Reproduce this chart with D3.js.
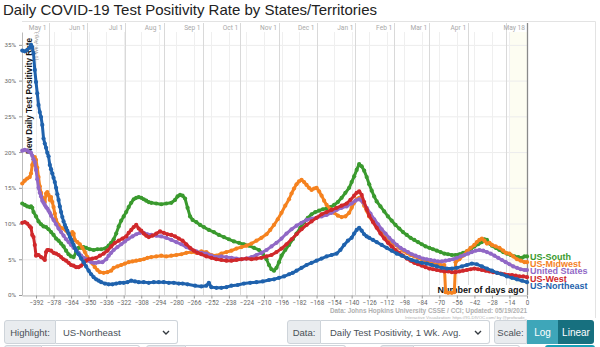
<!DOCTYPE html>
<html>
<head>
<meta charset="utf-8">
<script src="https://cdn.jsdelivr.net/npm/d3@7/dist/d3.min.js"></script>
<style>
  body { margin: 0; background: #fff; font-family: "Liberation Sans", Arial, sans-serif; overflow: hidden; }
  #chart { position: absolute; left: 0; top: 0; }
  .ctl { position: absolute; height: 24px; display: flex; font-size: 9.5px; color: #495057; box-sizing: border-box; white-space: nowrap; }
  .ctl .lbl { flex: none; background: #e9ecef; border: 1px solid #ced4da; border-radius: 3px 0 0 3px; padding: 0 5px; display: flex; align-items: center; justify-content: center; box-sizing: border-box; }
  .ctl .sel { background: #fff; border: 1px solid #ced4da; border-left: none; border-radius: 0 3px 3px 0; flex: 1; display: flex; align-items: center; padding-left: 7px; position: relative; box-sizing: border-box; overflow: hidden; }
  .ctl .sel svg { position: absolute; right: 7px; top: 9px; }
  .btn { flex: none; color: #fff; display: flex; align-items: center; justify-content: center; box-sizing: border-box; font-size: 10px; }
</style>
</head>
<body>
<svg id="chart" width="600" height="320"></svg>

<div class="ctl" style="left:4px;top:320px;width:174px">
  <div class="lbl" style="width:52px">Highlight:</div>
  <div class="sel">US-Northeast<svg width="8" height="6"><path d="M1 1 L4 4 L7 1" fill="none" stroke="#343a40" stroke-width="1.4"/></svg></div>
</div>
<div class="ctl" style="left:287px;top:320px;width:203px">
  <div class="lbl" style="width:34px">Data:</div>
  <div class="sel" style="padding-left:9px">Daily Test Positivity, 1 Wk. Avg.<svg width="8" height="6"><path d="M1 1 L4 4 L7 1" fill="none" stroke="#343a40" stroke-width="1.4"/></svg></div>
</div>
<div class="ctl" style="left:494px;top:320px;width:100px">
  <div class="lbl" style="width:33px">Scale:</div>
  <div class="btn" style="width:31px;background:#3ea6b9;">Log</div>
  <div class="btn" style="width:36px;background:#17707f;border-radius:0 3px 3px 0;">Linear</div>
</div>
<div class="ctl" style="left:4px;top:345px;width:136px"><div class="lbl" style="width:38px"></div><div class="sel"></div></div>
<div class="ctl" style="left:146px;top:345px;width:200px"><div class="lbl" style="width:40px"></div><div class="sel"></div></div>
<div class="ctl" style="left:380px;top:345px;width:140px"><div class="lbl" style="width:34px"></div><div class="sel"></div></div>
<div class="ctl" style="left:545px;top:345px;width:50px;background:#17a2b8;border-radius:3px"></div>

<script>
// regions, colours (drawing order: highlighted region last)
const regions = ["US-South", "US-Midwest", "United States", "US-West", "US-Northeast"];
const regionColors = ["#3a9a2e", "#f5821f", "#9168c6", "#d0282b", "#1f62ad"];

// [days ago, positivity %] -- 7 day average
const south = [[-403,12.8],[-401,12.6],[-399,12.4],[-397,12.3],[-396,12.4],[-395,12.2],[-394,11.6],[-392,11.0],[-390,10.3],[-388,9.9],[-386,9.6],[-384,9.5],[-382,9.2],[-380,8.8],[-378,8.4],[-376,7.9],[-374,7.6],[-372,7.2],[-370,6.8],[-368,6.2],[-366,5.7],[-364,5.4],[-362,5.3],[-360,6.0],[-358,6.6],[-356,6.6],[-354,6.7],[-352,6.6],[-349,6.4],[-346,6.3],[-343,6.4],[-340,6.4],[-337,6.5],[-334,6.9],[-332,7.3],[-330,7.8],[-328,8.6],[-326,9.6],[-324,10.4],[-322,11.0],[-320,11.6],[-318,12.3],[-316,12.9],[-314,13.4],[-312,13.6],[-310,13.7],[-308,13.6],[-306,13.4],[-304,13.2],[-302,13.0],[-300,12.9],[-296,12.8],[-292,12.7],[-288,12.8],[-284,12.9],[-281,13.3],[-279,13.8],[-277,14.0],[-275,13.9],[-273,13.5],[-271,12.2],[-269,11.0],[-267,10.5],[-264,10.2],[-261,9.8],[-258,9.5],[-254,9.1],[-250,8.8],[-246,8.4],[-242,8.1],[-238,7.8],[-234,7.5],[-230,7.3],[-226,7.1],[-222,6.9],[-218,6.6],[-214,6.3],[-211,5.8],[-208,5.0],[-206,4.2],[-204,3.6],[-202,3.4],[-200,3.8],[-198,4.6],[-196,5.5],[-193,6.3],[-190,7.0],[-187,7.8],[-184,8.6],[-181,9.4],[-178,10.2],[-175,10.8],[-172,11.3],[-169,11.6],[-166,11.8],[-163,12.0],[-160,12.1],[-157,12.3],[-154,12.6],[-151,13.0],[-148,13.6],[-145,14.3],[-142,15.0],[-140,15.8],[-138,16.6],[-136,17.5],[-134,18.3],[-132,18.0],[-130,17.4],[-128,16.5],[-126,15.5],[-124,14.6],[-122,13.8],[-120,13.1],[-117,12.4],[-114,11.7],[-111,11.0],[-108,10.4],[-105,9.8],[-102,9.3],[-99,8.8],[-96,8.4],[-93,8.0],[-90,7.7],[-87,7.4],[-84,7.1],[-81,6.8],[-78,6.6],[-75,6.4],[-72,6.2],[-69,6.0],[-66,5.8],[-63,5.7],[-60,5.6],[-57,5.6],[-54,5.7],[-51,5.9],[-48,6.1],[-45,6.4],[-42,6.8],[-39,7.1],[-36,7.4],[-34,7.8],[-32,7.7],[-30,7.2],[-28,6.9],[-25,6.6],[-22,6.3],[-19,6.0],[-16,5.8],[-13,5.6],[-10,5.4],[-7,5.3],[-4,5.2],[-2,5.4],[0,5.4]];

const midwest = [[-403,15.6],[-401,16.0],[-399,16.3],[-397,16.5],[-396,17.0],[-395,18.2],[-394,19.0],[-393,19.3],[-392,18.9],[-391,17.8],[-390,16.5],[-389,15.2],[-388,14.3],[-387,13.6],[-386,13.3],[-385,13.0],[-384,14.2],[-383,14.4],[-382,14.0],[-381,13.3],[-380,13.7],[-379,13.0],[-378,12.3],[-377,11.4],[-376,10.5],[-374,9.8],[-372,9.4],[-370,9.3],[-368,9.0],[-366,8.6],[-364,8.4],[-363,8.8],[-362,8.6],[-361,7.7],[-359,7.4],[-357,7.1],[-355,6.6],[-353,6.0],[-351,5.3],[-349,4.8],[-347,4.4],[-345,3.9],[-343,3.5],[-341,3.2],[-338,3.1],[-335,3.2],[-332,3.4],[-330,3.8],[-327,4.0],[-324,4.2],[-321,4.4],[-318,4.6],[-315,4.7],[-312,4.8],[-309,4.9],[-306,5.0],[-303,5.2],[-300,5.3],[-296,5.4],[-292,5.5],[-288,5.4],[-284,5.5],[-280,5.6],[-276,5.7],[-272,5.9],[-268,6.0],[-264,5.9],[-260,6.1],[-256,6.0],[-252,5.6],[-248,5.5],[-244,5.8],[-240,6.0],[-236,6.2],[-232,6.5],[-228,6.7],[-224,6.9],[-220,7.2],[-216,7.6],[-212,8.0],[-208,8.5],[-205,9.1],[-202,9.8],[-199,10.6],[-196,11.5],[-193,12.5],[-190,13.4],[-188,14.2],[-186,14.9],[-184,15.5],[-182,15.9],[-180,16.1],[-178,15.8],[-176,15.4],[-174,15.0],[-172,14.7],[-170,14.9],[-168,15.0],[-166,14.5],[-164,13.9],[-162,13.2],[-160,12.6],[-157,12.0],[-154,11.5],[-151,11.1],[-148,10.9],[-145,11.0],[-142,11.5],[-140,12.2],[-138,12.9],[-136,13.4],[-134,13.6],[-132,13.2],[-130,12.5],[-128,11.8],[-126,11.0],[-123,10.3],[-120,9.6],[-117,9.0],[-114,8.4],[-111,7.9],[-108,7.4],[-105,7.0],[-102,6.6],[-99,6.2],[-96,5.9],[-93,5.6],[-90,5.4],[-87,5.2],[-84,5.0],[-81,4.8],[-78,4.6],[-75,4.4],[-72,4.3],[-69,4.2],[-66,4.2],[-65,0.4],[-63,0.3],[-60,0.3],[-58,0.4],[-57,4.6],[-54,5.0],[-51,5.5],[-48,6.1],[-45,6.6],[-42,7.0],[-40,7.4],[-38,7.7],[-36,7.9],[-34,7.6],[-32,7.2],[-30,7.3],[-28,7.0],[-25,6.8],[-22,6.6],[-19,6.2],[-17,5.9],[-14,5.8],[-11,5.4],[-8,5.0],[-5,4.8],[-2,4.6],[0,4.6]];

const unitedStates = [[-403,20.2],[-401,20.3],[-399,20.2],[-397,20.0],[-396,19.9],[-395,19.5],[-394,19.0],[-393,18.6],[-392,17.5],[-391,16.2],[-390,15.0],[-389,14.3],[-388,13.8],[-387,13.2],[-386,12.9],[-385,12.6],[-384,12.3],[-383,12.1],[-382,11.8],[-381,11.5],[-380,11.1],[-378,10.5],[-376,9.9],[-374,9.3],[-372,8.8],[-370,8.3],[-368,7.8],[-366,7.4],[-364,7.0],[-362,6.6],[-360,6.3],[-358,5.9],[-356,5.5],[-354,5.2],[-352,5.0],[-350,4.8],[-348,4.6],[-346,4.5],[-344,4.5],[-342,4.6],[-339,4.6],[-336,5.0],[-334,5.5],[-332,5.9],[-330,6.3],[-327,6.7],[-324,7.1],[-321,7.5],[-318,7.9],[-315,8.2],[-312,8.5],[-309,8.7],[-306,8.7],[-303,8.5],[-300,8.4],[-296,8.3],[-292,8.2],[-288,8.0],[-284,7.7],[-280,7.4],[-276,7.1],[-272,6.7],[-268,6.4],[-264,6.1],[-260,5.9],[-256,5.8],[-252,5.5],[-248,5.3],[-244,5.4],[-240,5.3],[-236,5.2],[-232,5.1],[-228,5.0],[-224,5.1],[-220,5.3],[-216,5.6],[-212,5.9],[-208,6.3],[-204,6.8],[-200,7.3],[-196,7.9],[-192,8.6],[-188,9.2],[-184,9.7],[-180,10.1],[-176,10.5],[-172,10.7],[-168,10.8],[-164,11.0],[-160,11.2],[-156,11.5],[-152,11.9],[-148,12.2],[-144,12.4],[-140,12.8],[-137,13.2],[-134,13.4],[-131,13.0],[-128,12.2],[-125,11.4],[-122,10.6],[-119,9.9],[-116,9.2],[-113,8.6],[-110,8.0],[-107,7.5],[-104,7.0],[-101,6.6],[-98,6.3],[-95,6.0],[-92,5.7],[-89,5.5],[-86,5.3],[-83,5.1],[-80,5.0],[-77,4.9],[-74,4.8],[-71,4.7],[-68,4.7],[-65,4.8],[-62,4.9],[-59,5.0],[-56,5.2],[-53,5.4],[-50,5.6],[-47,5.8],[-44,6.0],[-41,6.2],[-38,6.3],[-35,6.2],[-32,6.0],[-29,5.8],[-26,5.5],[-23,5.2],[-20,4.9],[-17,4.6],[-14,4.3],[-11,4.0],[-8,3.8],[-5,3.6],[-2,3.5],[0,3.5]];

const west = [[-403,10.1],[-401,10.2],[-399,10.0],[-397,9.6],[-396,9.4],[-395,8.4],[-394,8.1],[-393,7.0],[-392,5.5],[-391,5.6],[-390,5.6],[-388,5.3],[-386,5.1],[-385,4.9],[-384,6.0],[-383,6.3],[-382,6.3],[-380,6.2],[-378,5.9],[-376,5.8],[-374,5.6],[-372,5.3],[-370,5.0],[-368,4.8],[-366,4.5],[-364,4.2],[-362,4.1],[-360,3.9],[-358,3.9],[-356,4.1],[-354,4.4],[-352,4.8],[-350,5.0],[-347,5.1],[-344,5.2],[-341,5.5],[-338,5.8],[-335,6.2],[-332,6.8],[-329,7.3],[-326,7.6],[-323,7.9],[-320,8.2],[-318,8.7],[-316,9.1],[-314,9.5],[-312,9.8],[-310,9.3],[-308,9.0],[-306,8.6],[-304,8.3],[-302,8.1],[-299,8.3],[-296,8.6],[-293,8.9],[-290,8.7],[-287,8.5],[-284,8.4],[-281,8.2],[-278,7.9],[-275,7.6],[-272,7.1],[-269,6.6],[-266,6.2],[-263,5.9],[-260,5.7],[-256,5.4],[-252,5.2],[-248,5.0],[-244,4.9],[-240,4.8],[-236,4.8],[-232,4.9],[-228,5.0],[-224,5.1],[-220,5.0],[-216,5.1],[-212,5.2],[-208,5.4],[-204,5.6],[-200,6.0],[-196,6.5],[-192,7.1],[-188,7.8],[-184,8.5],[-180,9.2],[-176,9.8],[-172,10.3],[-168,10.8],[-164,11.3],[-160,11.6],[-156,11.9],[-152,12.2],[-148,12.5],[-144,12.8],[-141,13.3],[-138,13.9],[-136,14.3],[-134,14.5],[-132,14.0],[-130,13.0],[-128,12.0],[-126,11.1],[-123,10.2],[-120,9.4],[-117,8.6],[-114,7.9],[-111,7.3],[-108,6.8],[-105,6.3],[-102,5.9],[-99,5.5],[-96,5.1],[-93,4.8],[-90,4.5],[-87,4.3],[-84,4.1],[-81,3.9],[-78,3.7],[-75,3.6],[-72,3.5],[-69,3.4],[-66,3.3],[-63,3.3],[-60,3.2],[-57,3.2],[-54,3.3],[-51,3.4],[-48,3.5],[-45,3.6],[-42,3.7],[-39,3.6],[-36,3.5],[-33,3.4],[-30,3.3],[-27,3.2],[-24,3.1],[-21,3.0],[-18,2.9],[-15,2.8],[-12,2.8],[-9,2.7],[-6,2.6],[-3,2.6],[0,2.5]];

const northeast = [[-403,34.2],[-401,34.1],[-399,34.3],[-397,34.6],[-396,35.0],[-395,34.7],[-394,33.8],[-393,31.5],[-392,29.8],[-391,28.2],[-390,26.6],[-389,25.6],[-388,24.9],[-387,23.8],[-386,21.9],[-385,21.2],[-384,20.6],[-383,19.9],[-382,19.4],[-381,18.2],[-380,17.6],[-379,17.0],[-378,16.4],[-377,15.8],[-376,15.0],[-375,14.1],[-374,13.3],[-373,12.4],[-372,11.6],[-371,10.9],[-370,10.3],[-369,9.8],[-368,9.4],[-367,9.0],[-366,8.6],[-365,8.1],[-364,7.8],[-363,7.4],[-362,7.0],[-361,6.6],[-360,6.2],[-358,5.7],[-356,5.1],[-354,4.6],[-352,4.0],[-350,3.4],[-348,2.9],[-346,2.5],[-344,2.2],[-342,2.0],[-340,1.8],[-337,1.6],[-334,1.5],[-331,1.5],[-328,1.6],[-325,1.7],[-322,1.7],[-319,1.8],[-316,2.0],[-313,1.9],[-310,1.8],[-306,1.8],[-302,1.7],[-298,1.8],[-294,1.8],[-290,1.8],[-286,1.7],[-282,1.7],[-278,1.6],[-275,1.6],[-271,1.5],[-265,1.3],[-260,1.2],[-256,1.3],[-254,1.7],[-252,1.1],[-248,1.0],[-244,1.0],[-240,1.1],[-236,1.3],[-231,1.4],[-226,1.6],[-221,1.7],[-216,1.8],[-211,1.9],[-206,2.1],[-202,2.2],[-198,2.4],[-194,2.6],[-190,2.9],[-187,3.1],[-184,3.4],[-180,3.8],[-176,4.2],[-172,4.5],[-168,4.8],[-164,5.1],[-160,5.4],[-156,5.6],[-152,5.8],[-149,6.3],[-146,7.0],[-143,7.6],[-140,8.0],[-138,8.6],[-136,9.1],[-134,9.4],[-132,9.0],[-130,8.5],[-128,8.2],[-126,8.0],[-123,7.7],[-120,7.4],[-116,7.0],[-112,6.6],[-108,6.2],[-104,5.8],[-100,5.5],[-96,5.2],[-92,4.9],[-88,4.7],[-84,4.5],[-80,4.4],[-76,4.2],[-72,4.0],[-68,3.8],[-64,3.7],[-60,3.7],[-56,3.8],[-52,4.0],[-48,4.2],[-44,4.4],[-40,4.3],[-36,4.0],[-32,3.7],[-28,3.4],[-24,3.1],[-20,2.9],[-16,2.6],[-12,2.4],[-8,2.2],[-4,2.0],[0,1.8]];

const regionData = [south, midwest, unitedStates, west, northeast];

// axes
const dayTicks = [-392,-378,-364,-350,-336,-322,-308,-294,-280,-266,-252,-238,-224,-210,-196,-182,-168,-154,-140,-126,-112,-98,-84,-70,-56,-42,-28,-14,0];
const pctTicks = [0, 5, 10, 15, 20, 25, 30, 35];
const monthDates = ["2020-05-01","2020-06-01","2020-07-01","2020-08-01","2020-09-01","2020-10-01","2020-11-01","2020-12-01","2021-01-01","2021-02-01","2021-03-01","2021-04-01","2021-05-01"];
const monthLabels = ["May 1","Jun 1","Jul 1","Aug 1","Sep 1","Oct 1","Nov 1","Dec 1","Jan 1","Feb 1","Mar 1","Apr 1",""];
const lastDate = "2021-05-18";

const svg = d3.select("#chart");
const plot = {left: 22, right: 527, top: 32, bottom: 295};

const x = d3.scaleLinear().domain([-403.2, 0]).range([plot.left, plot.right]);
const y = d3.scaleLinear().domain([0, 36.8]).range([plot.bottom, plot.top]);
const daysAgo = s => (Date.parse(s) - Date.parse(lastDate)) / 864e5;

// title
svg.append("text")
  .attr("x", 3).attr("y", 15)
  .attr("font-family", "Liberation Sans, Arial, sans-serif")
  .attr("font-size", 15).attr("fill", "#222")
  .text("Daily COVID-19 Test Positivity Rate by States/Territories");

// frame
svg.append("path")
  .attr("d", `M${plot.left},21.5H595.5V318`)
  .attr("fill", "none").attr("stroke", "#e3e3e3");

// last two weeks shading
svg.append("rect")
  .attr("x", x(-14)).attr("y", plot.top)
  .attr("width", x(0) - x(-14)).attr("height", plot.bottom - plot.top)
  .attr("fill", "#fdfdf2");

// grid
svg.append("g").selectAll("line").data(pctTicks).join("line")
  .attr("x1", plot.left).attr("x2", plot.right)
  .attr("y1", d => y(d) + 0.5).attr("y2", d => y(d) + 0.5)
  .attr("stroke", "#ececec");

svg.append("g").selectAll("line").data(dayTicks).join("line")
  .attr("x1", d => Math.round(x(d)) + 0.5).attr("x2", d => Math.round(x(d)) + 0.5)
  .attr("y1", plot.top).attr("y2", plot.bottom)
  .attr("stroke", "#efefef");

const months = svg.append("g");
months.selectAll("line").data(monthDates).join("line")
  .attr("x1", d => Math.round(x(daysAgo(d))) + 0.5).attr("x2", d => Math.round(x(daysAgo(d))) + 0.5)
  .attr("y1", 23).attr("y2", plot.bottom)
  .attr("stroke", "#d9d9d9");
months.selectAll("text").data(monthDates).join("text")
  .attr("x", d => x(daysAgo(d)) - 2).attr("y", 30)
  .attr("text-anchor", "end")
  .attr("font-family", "Roboto, sans-serif").attr("font-size", 6.6).attr("fill", "#a8a8a8")
  .text((d, i) => monthLabels[i]);
months.append("line")
  .attr("x1", plot.right + 0.5).attr("x2", plot.right + 0.5)
  .attr("y1", 23).attr("y2", plot.bottom)
  .attr("stroke", "#8a8a8a").attr("stroke-width", 1.3);
months.append("text")
  .attr("x", plot.right - 2).attr("y", 30).attr("text-anchor", "end")
  .attr("font-family", "Roboto, sans-serif").attr("font-size", 6.6).attr("fill", "#a8a8a8")
  .text("May 18");

// x axis
const xAxis = svg.append("g")
  .attr("transform", `translate(0,${plot.bottom + 0.5})`)
  .call(d3.axisBottom(x).tickValues(dayTicks).tickSize(3).tickSizeOuter(0));
xAxis.select(".domain").attr("stroke", "#bbb");
xAxis.selectAll(".tick line").attr("stroke", "#999");
xAxis.selectAll("text")
  .attr("font-family", "Roboto, sans-serif").attr("font-size", 6.3).attr("fill", "#666").attr("dy", "0.6em");

// y axis
const yAxis = svg.append("g")
  .attr("transform", `translate(${plot.left},0)`)
  .call(d3.axisLeft(y).tickValues(pctTicks).tickSize(3).tickFormat(d => d + "%").tickSizeOuter(0));
yAxis.select(".domain").attr("stroke", "#bbb");
yAxis.selectAll(".tick line").attr("stroke", "#999");
yAxis.selectAll("text")
  .attr("font-family", "Roboto, sans-serif").attr("font-size", 6.2).attr("fill", "#666");

// axis titles
svg.append("text")
  .attr("transform", "translate(32,38) rotate(-90)")
  .attr("text-anchor", "end")
  .attr("font-family", "Liberation Sans, Arial, sans-serif").attr("font-weight", "bold")
  .attr("font-size", 8.2).attr("fill", "#111")
  .text("New Daily Test Positivity Rate");
svg.append("text")
  .attr("transform", "translate(38,32) rotate(-90)")
  .attr("text-anchor", "end")
  .attr("font-family", "Liberation Sans, Arial, sans-serif")
  .attr("font-size", 5.2).attr("fill", "#999")
  .text("(1 Wk. Avg.)");

const xTitle = svg.append("g");
const xTitleText = xTitle.append("text")
  .attr("x", 524).attr("y", 293).attr("text-anchor", "end")
  .attr("font-family", "Liberation Sans, Arial, sans-serif").attr("font-weight", "bold")
  .attr("font-size", 9).attr("fill", "#111")
  .text("Number of days ago");
const tb = xTitleText.node().getBBox();
xTitle.insert("rect", "text")
  .attr("x", tb.x - 2).attr("y", tb.y).attr("width", tb.width + 4).attr("height", tb.height)
  .attr("fill", "#fff");

// lines with a dot per reading
const line = d3.line().x(d => x(d[0])).y(d => y(d[1]));
const series = svg.append("g").selectAll("g").data(regionData).join("g")
  .attr("fill", (d, i) => regionColors[i])
  .attr("stroke", (d, i) => regionColors[i]);
series.append("path")
  .attr("d", line)
  .attr("fill", "none")
  .attr("stroke-width", 3)
  .attr("stroke-linejoin", "round");
series.selectAll("circle").data(d => d).join("circle")
  .attr("cx", d => x(d[0])).attr("cy", d => y(d[1]))
  .attr("r", 2.1)
  .attr("stroke", "none");

// end labels, pushed apart so they do not overlap
const ends = regionData.map((s, i) => ({name: regions[i], color: regionColors[i], y: y(s[s.length - 1][1])}))
  .sort((a, b) => a.y - b.y);
for (let i = 1; i < ends.length; i++) {
  if (ends[i].y < ends[i - 1].y + 7.4) ends[i].y = ends[i - 1].y + 7.4;
}
svg.append("g").selectAll("text").data(ends).join("text")
  .attr("x", 530).attr("y", d => d.y + 3.2)
  .attr("font-family", "Liberation Sans, Arial, sans-serif").attr("font-weight", "bold")
  .attr("font-size", 9).attr("fill", d => d.color)
  .text(d => d.name);

// source
svg.append("text")
  .attr("x", plot.right).attr("y", 313).attr("text-anchor", "end")
  .attr("font-family", "Liberation Sans, Arial, sans-serif").attr("font-weight", "bold")
  .attr("font-size", 6.4).attr("fill", "#b0b0b0")
  .text("Data: Johns Hopkins University CSSE / CCI; Updated: 05/19/2021");
svg.append("text")
  .attr("x", plot.right).attr("y", 318.5).attr("text-anchor", "end")
  .attr("font-family", "Liberation Sans, Arial, sans-serif")
  .attr("font-size", 4.3).attr("fill", "#b0b0b0")
  .text("Interactive Visualization: https://91-DIVOC.com/ by @profwade_");
</script>
</body>
</html>
